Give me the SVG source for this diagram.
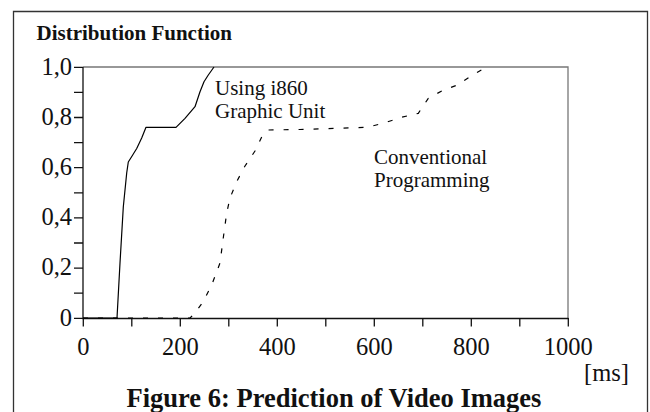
<svg xmlns="http://www.w3.org/2000/svg" width="650" height="412" viewBox="0 0 650 412">
<style>
text{font-family:"Liberation Serif","Times New Roman",serif;fill:#111}
.b{font-weight:bold}
.tl{font-size:24.5px}
.lab{font-size:21px}
.ax{stroke:#111;stroke-width:1.3;fill:none}
.fr{stroke:#777;stroke-width:1.3;fill:none}
.cv{stroke:#000;stroke-width:1.2;fill:none;stroke-linejoin:round}
</style>
<rect width="650" height="412" fill="#fff"/>
<g id="frame"><path d="M13.5,420 V11.5 H647.5 V420" stroke="#333" stroke-width="1.3" fill="none"/></g>
<g id="title"><text class="b" x="36.5" y="40" font-size="21">Distribution Function</text></g>
<g id="plot-border"><path class="fr" d="M83,67 H568 V318"/></g>
<g id="axes">
<path class="ax" d="M83,67 V318.5 H568.5"/>
<path class="ax" d="M74,67.3H83M74,92.4H83M74,117.5H83M74,142.6H83M74,167.7H83M74,192.8H83M74,217.9H83M74,243H83M74,268.1H83M74,293.2H83M74,318.3H83"/>
<path class="ax" d="M83.3,318V326.5M131.8,318V326.5M180.3,318V326.5M228.8,318V326.5M277.3,318V326.5M325.8,318V326.5M374.3,318V326.5M422.8,318V326.5M471.3,318V326.5M519.8,318V326.5M568.3,318V326.5"/>
</g>
<g id="y-labels" class="tl" text-anchor="end">
<text x="72" y="74.5">1,0</text>
<text x="72" y="124.7">0,8</text>
<text x="72" y="174.9">0,6</text>
<text x="72" y="225.1">0,4</text>
<text x="72" y="275.3">0,2</text>
<text x="72" y="325.5">0</text>
</g>
<g id="x-labels" class="tl" text-anchor="middle">
<text x="83.3" y="355">0</text>
<text x="180.3" y="355">200</text>
<text x="277.3" y="355">400</text>
<text x="374.3" y="355">600</text>
<text x="471.3" y="355">800</text>
<text x="568.3" y="355">1000</text>
<text x="606.5" y="380.5">[ms]</text>
</g>
<g id="connectors">
<path id="i860-curve" class="cv" d="M83,318 L117,318 L120,263 L123.3,207 L126.7,173 L128.3,162 L132.7,155 L136.7,148.5 L141.7,138 L146,127.3 L176,127.3 L185,118.3 L195,106.7 L200,91.7 L204,81.7 L208.3,75 L214,67"/>
<path id="conv-curve" class="cv" stroke-dasharray="5 10" d="M83,318 L190,318 L195,313 L203,302 L211.7,285 L220,263 L223,240 L226.7,213 L230,198 L236.7,181.7 L245,166 L255,151 L261.7,137 L268,130 L300,129.5 L367,127.3 L383,123.3 L401.7,117.3 L418.3,113.3 L428.3,98.3 L441.7,91 L457.3,85 L470,76.7 L486,67.3"/>
</g>
<g id="label-i860" class="lab">
<text x="215" y="94.5">Using i860</text>
<text x="215" y="117.5">Graphic Unit</text>
</g>
<g id="label-conv" class="lab">
<text x="374" y="163.5">Conventional</text>
<text x="374" y="186.5">Programming</text>
</g>
<g id="caption"><text class="b" x="334" y="407" font-size="26.5" text-anchor="middle">Figure 6: Prediction of Video Images</text></g>
</svg>
